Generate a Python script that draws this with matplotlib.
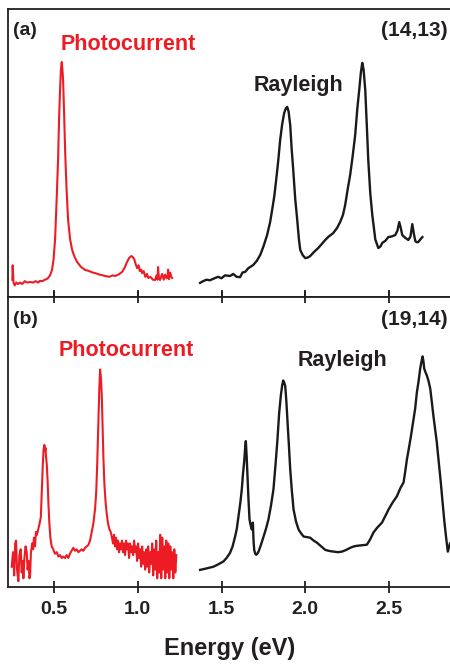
import matplotlib.pyplot as plt

plt.rcParams['font.family'] = ['Liberation Sans', 'DejaVu Sans']
plt.rcParams['font.weight'] = 'bold'

red = '#ed1c24'
dark = '#231f20'

# ---- panel (a), (14,13) ----
pc_a_E = [0.251, 0.253, 0.258, 0.265, 0.275, 0.285, 0.297, 0.31, 0.325, 0.34, 0.357,
          0.375, 0.39, 0.405, 0.416, 0.43, 0.445, 0.456, 0.464, 0.476, 0.488, 0.497,
          0.506, 0.515, 0.524, 0.53, 0.536, 0.541, 0.546, 0.55, 0.554, 0.56, 0.566,
          0.575, 0.584, 0.596, 0.608, 0.622, 0.637, 0.66, 0.685, 0.71, 0.73, 0.745,
          0.77, 0.805, 0.83, 0.85, 0.864, 0.885, 0.906, 0.92, 0.936, 0.948, 0.96,
          0.968, 0.978, 0.987, 0.996, 1.005, 1.012, 1.02, 1.026, 1.035, 1.045, 1.055,
          1.062, 1.075, 1.09, 1.103, 1.112, 1.118, 1.121, 1.126, 1.133, 1.145, 1.155,
          1.163, 1.172, 1.178, 1.181, 1.186, 1.193, 1.2, 1.205]
pc_a_y = [0.06, 0.11, 0.05, 0.04, 0.05, 0.045, 0.05, 0.045, 0.055, 0.05, 0.052,
          0.05, 0.055, 0.05, 0.056, 0.055, 0.06, 0.062, 0.066, 0.075, 0.094, 0.13,
          0.198, 0.33, 0.476, 0.62, 0.72, 0.79, 0.816, 0.79, 0.753, 0.64, 0.51,
          0.37, 0.267, 0.2, 0.163, 0.14, 0.122, 0.105, 0.094, 0.09, 0.085, 0.083,
          0.078, 0.073, 0.07, 0.075, 0.073, 0.078, 0.087, 0.1, 0.122, 0.135, 0.142,
          0.14, 0.132, 0.115, 0.1, 0.11, 0.09, 0.095, 0.083, 0.09, 0.07, 0.08,
          0.066, 0.07, 0.06, 0.059, 0.075, 0.06, 0.104, 0.065, 0.059, 0.08, 0.06,
          0.078, 0.065, 0.07, 0.095, 0.062, 0.085, 0.07, 0.066]

ray_a_E = [1.372, 1.39, 1.41, 1.43, 1.462, 1.48, 1.5, 1.52, 1.551, 1.57, 1.59, 1.611,
           1.625, 1.641, 1.66, 1.689, 1.71, 1.731, 1.75, 1.772, 1.79, 1.802, 1.815,
           1.826, 1.838, 1.85, 1.862, 1.874, 1.884, 1.892, 1.9, 1.91, 1.918, 1.928,
           1.94, 1.952, 1.962, 1.97, 1.985, 2.0, 2.015, 2.029, 2.05, 2.077, 2.1, 2.119,
           2.14, 2.167, 2.19, 2.208, 2.225, 2.238, 2.252, 2.268, 2.283, 2.298, 2.31,
           2.322, 2.332, 2.34, 2.348, 2.358, 2.367, 2.376, 2.388, 2.4, 2.418, 2.436,
           2.448, 2.46, 2.478, 2.496, 2.515, 2.537, 2.55, 2.561, 2.57, 2.579, 2.598,
           2.615, 2.628, 2.639, 2.648, 2.657, 2.666, 2.675, 2.687, 2.699]
ray_a_y = [0.049, 0.055, 0.06, 0.058, 0.066, 0.07, 0.065, 0.075, 0.073, 0.08, 0.07, 0.069,
           0.085, 0.087, 0.1, 0.111, 0.125, 0.146, 0.175, 0.215, 0.26, 0.302, 0.35,
           0.406, 0.47, 0.545, 0.6, 0.639, 0.655, 0.66, 0.645, 0.597, 0.52, 0.441,
           0.34, 0.267, 0.2, 0.163, 0.145, 0.135, 0.137, 0.142, 0.155, 0.17, 0.185, 0.198,
           0.21, 0.222, 0.24, 0.26, 0.285, 0.319, 0.37, 0.424, 0.49, 0.563, 0.65,
           0.719, 0.78, 0.813, 0.79, 0.719, 0.6, 0.476, 0.36, 0.285, 0.2, 0.17,
           0.175, 0.188, 0.195, 0.208, 0.21, 0.215, 0.23, 0.26, 0.24, 0.215, 0.205,
           0.198, 0.21, 0.253, 0.22, 0.194, 0.19, 0.191, 0.2, 0.208]

# ---- panel (b), (19,14) ----
pc_b_E = [0.247, 0.255, 0.262, 0.268, 0.273, 0.279, 0.287, 0.293, 0.301, 0.307, 0.312,
          0.317, 0.323, 0.33, 0.337, 0.342, 0.348, 0.353, 0.357, 0.362, 0.37, 0.375,
          0.38, 0.386, 0.392, 0.398, 0.406, 0.414, 0.421, 0.426, 0.432, 0.437, 0.442,
          0.446, 0.449, 0.452, 0.457, 0.462, 0.467, 0.472, 0.478, 0.486, 0.495, 0.505,
          0.516, 0.526, 0.536, 0.546, 0.556, 0.566, 0.575, 0.585, 0.595, 0.605, 0.615,
          0.625, 0.635, 0.645, 0.655, 0.665, 0.675, 0.685, 0.695, 0.705, 0.715, 0.725,
          0.735, 0.745, 0.752, 0.758, 0.764, 0.77, 0.775, 0.78, 0.785, 0.79, 0.795,
          0.801, 0.808, 0.815, 0.822, 0.83, 0.838, 0.846, 0.852, 0.858, 0.864, 0.87,
          0.876, 0.882, 0.888, 0.894, 0.9, 0.906, 0.912, 0.918, 0.924, 0.93, 0.936,
          0.942, 0.948, 0.954, 0.96, 0.966, 0.972, 0.978, 0.984, 0.99, 0.996, 1.002,
          1.008, 1.014, 1.02, 1.026, 1.032, 1.038, 1.044, 1.05, 1.056, 1.062, 1.068,
          1.074, 1.08, 1.086, 1.092, 1.098, 1.104, 1.11, 1.116, 1.122, 1.128, 1.134,
          1.14, 1.146, 1.152, 1.158, 1.164, 1.17, 1.176, 1.182, 1.188, 1.194, 1.2,
          1.206, 1.212, 1.218, 1.224, 1.23]
pc_b_y = [0.07, 0.12, 0.04, 0.15, 0.16, 0.06, 0.02, 0.11, 0.13, 0.05, 0.09,
          0.03, 0.1, 0.14, 0.12, 0.06, 0.09, 0.03, 0.04, 0.12, 0.15, 0.13,
          0.17, 0.14, 0.19, 0.18, 0.2, 0.22, 0.24, 0.32, 0.41, 0.47, 0.49,
          0.47, 0.48, 0.45, 0.42, 0.36, 0.28, 0.22, 0.17, 0.14, 0.13, 0.115,
          0.12, 0.105, 0.11, 0.1, 0.105, 0.1, 0.11, 0.1, 0.115, 0.125, 0.135,
          0.125, 0.13, 0.12, 0.125, 0.13, 0.125, 0.135, 0.14, 0.145, 0.16, 0.19,
          0.22, 0.27, 0.33, 0.43, 0.56, 0.68, 0.75, 0.72, 0.66, 0.55, 0.44,
          0.35, 0.29, 0.25, 0.22, 0.2, 0.19, 0.17, 0.15, 0.18, 0.14, 0.17,
          0.13, 0.16, 0.12, 0.15, 0.13, 0.16, 0.12, 0.15, 0.11, 0.16, 0.13,
          0.15, 0.1, 0.15, 0.12, 0.14, 0.11, 0.16, 0.12, 0.14, 0.09, 0.15,
          0.1, 0.13, 0.07, 0.14, 0.08, 0.12, 0.06, 0.13, 0.07, 0.14, 0.05,
          0.12, 0.08, 0.15, 0.04, 0.13, 0.06, 0.16, 0.03, 0.12, 0.05, 0.18,
          0.03, 0.17, 0.06, 0.14, 0.03, 0.16, 0.05, 0.15, 0.03, 0.14, 0.06,
          0.12, 0.03, 0.13, 0.05, 0.11]

ray_b_E = [1.372, 1.41, 1.452, 1.48, 1.511, 1.53, 1.551, 1.566, 1.581, 1.591, 1.601,
           1.612, 1.621, 1.628, 1.635, 1.641, 1.645, 1.65, 1.655, 1.661, 1.667, 1.675,
           1.681, 1.687, 1.691, 1.695, 1.701, 1.707, 1.714, 1.721, 1.735, 1.751, 1.765,
           1.78, 1.795, 1.81, 1.822, 1.834, 1.844, 1.854, 1.862, 1.868, 1.874, 1.88,
           1.887, 1.894, 1.902, 1.91, 1.92, 1.93, 1.945, 1.96, 1.975, 1.99, 2.01,
           2.029, 2.05, 2.069, 2.095, 2.119, 2.145, 2.169, 2.195, 2.219, 2.245, 2.268,
           2.29, 2.308, 2.34, 2.368, 2.388, 2.407, 2.43, 2.458, 2.478, 2.497, 2.52,
           2.547, 2.567, 2.587, 2.597, 2.607, 2.619, 2.631, 2.644, 2.656, 2.666, 2.676,
           2.681, 2.686, 2.693, 2.7, 2.705, 2.71, 2.718, 2.726, 2.736, 2.746, 2.755,
           2.765, 2.775, 2.785, 2.797, 2.809, 2.82, 2.831, 2.841, 2.851, 2.864]
ray_b_y = [0.059, 0.064, 0.07, 0.078, 0.088, 0.1, 0.118, 0.14, 0.174, 0.2, 0.243,
           0.29, 0.337, 0.39, 0.431, 0.48, 0.503, 0.45, 0.382, 0.3, 0.233, 0.21,
           0.198, 0.222, 0.16, 0.128, 0.115, 0.111, 0.115, 0.122, 0.145, 0.174, 0.2,
           0.233, 0.28, 0.337, 0.42, 0.51, 0.6, 0.66, 0.695, 0.712, 0.705, 0.694,
           0.64, 0.569, 0.49, 0.406, 0.33, 0.267, 0.225, 0.198, 0.185, 0.174, 0.172,
           0.17, 0.16, 0.153, 0.14, 0.128, 0.124, 0.122, 0.12, 0.122, 0.128, 0.135,
           0.14, 0.142, 0.144, 0.146, 0.165, 0.188, 0.205, 0.222, 0.245, 0.267, 0.29,
           0.313, 0.34, 0.361, 0.4, 0.441, 0.48, 0.521, 0.57, 0.615, 0.67, 0.708,
           0.73, 0.753, 0.775, 0.795, 0.78, 0.753, 0.74, 0.729, 0.71, 0.684, 0.64,
           0.59, 0.545, 0.5, 0.43, 0.361, 0.29, 0.222, 0.17, 0.122, 0.15]

xticks = [0.5, 1.0, 1.5, 2.0, 2.5]

fig = plt.figure(figsize=(4.5, 6.65), dpi=100)
ax1 = fig.add_axes([0.0185, 0.5534, 0.9815, 0.4331])
ax2 = fig.add_axes([0.0185, 0.1173, 0.9815, 0.4361], sharex=ax1)

panels = [
    (ax1, pc_a_E, pc_a_y, ray_a_E, ray_a_y, '(a)', '(14,13)',
     (0.119, 0.878), (0.556, 0.736)),
    (ax2, pc_b_E, pc_b_y, ray_b_E, ray_b_y, '(b)', '(19,14)',
     (0.115, 0.816), (0.656, 0.781)),
]

for ax, pe, py, re_, ry, tag, chir, pc_pos, ray_pos in panels:
    ax.plot(pe, py, color=red, lw=1.5)
    ax.plot(re_, ry, color='#1a1a1a', lw=1.7)
    ax.set_xlim(0.227, 2.864)
    ax.set_ylim(0, 1)
    ax.set_yticks([])
    ax.spines['right'].set_visible(False)
    for s in ['left', 'top', 'bottom']:
        ax.spines[s].set_color(dark)
        ax.spines[s].set_linewidth(1.3)
    ax.text(0.01, 0.924, tag, transform=ax.transAxes, fontsize=14,
            color=dark, fontweight='bold', va='center', ha='left')
    ax.text(0.995, 0.924, chir, transform=ax.transAxes, fontsize=15,
            color=dark, fontweight='bold', va='center', ha='right')
    ax.text(pc_pos[0], pc_pos[1], 'Photocurrent', transform=ax.transAxes,
            fontsize=15.5, color=red, fontweight='bold', va='center', ha='left')
    ax.text(ray_pos[0], ray_pos[1], 'Rayleigh', transform=ax.transAxes,
            fontsize=15.5, color=dark, fontweight='bold', va='center', ha='left')

ax1.set_xticks(xticks)
ax1.tick_params(axis='x', direction='in', length=5, width=1.3, color=dark,
                labelbottom=False)
ax2.tick_params(axis='x', direction='inout', length=8, width=1.3, color=dark,
                top=True, labelsize=14, labelcolor=dark, pad=6)
for lab in ax2.get_xticklabels():
    lab.set_fontweight('bold')
ax2.set_xlabel('Energy (eV)', fontsize=17, fontweight='bold', color=dark,
               labelpad=14)

fig.savefig('out.png', dpi=100)
